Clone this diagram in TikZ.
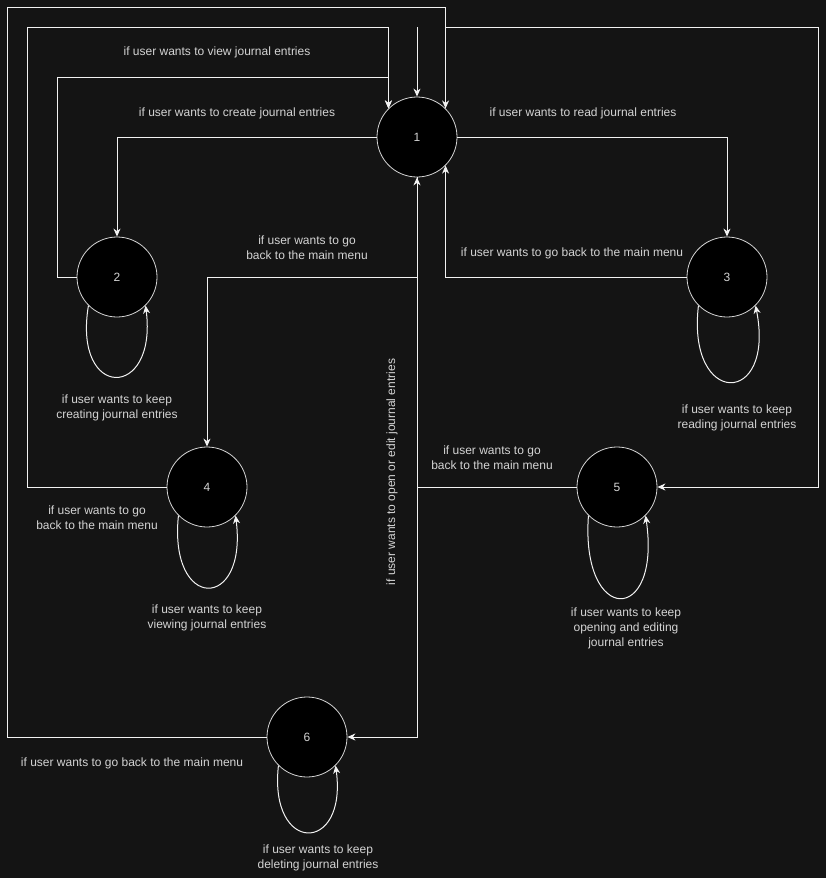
\documentclass[tikz,border=0pt]{standalone}
\usepackage{fontspec}
\setmainfont{Liberation Sans}
\usetikzlibrary{arrows.meta}
\definecolor{bg}{HTML}{141414}
\definecolor{fg}{HTML}{F2F2F2}
\definecolor{txt}{HTML}{D4D4D4}
\begin{document}
\begin{tikzpicture}[x=1pt,y=-1pt,
  state/.style={circle,draw=txt,fill=black,minimum size=80pt,inner sep=0pt,text=txt,font=\fontsize{12}{14}\selectfont,line width=0.8pt},
  edge/.style={draw=fg,line width=1pt,-{Stealth[length=8pt,width=7pt,inset=2.5pt]}},
  lbl/.style={text=txt,font=\fontsize{12}{15}\selectfont,align=center,inner sep=0pt}]
\fill[bg] (0,0) rectangle (826,878);
\useasboundingbox (0,0) rectangle (826,878);
% states
\node[state] (n1) at (417,137) {1};
\node[state] (n2) at (117,277) {2};
\node[state] (n3) at (727,277) {3};
\node[state] (n4) at (207,487) {4};
\node[state] (n5) at (617,487) {5};
\node[state] (n6) at (307,737) {6};
% corner coordinates
\coordinate (s) at (417,27);
\coordinate (c3) at (57,77);
\coordinate (c4) at (27,27);
\coordinate (c5) at (7,7);
\coordinate (c6) at (818,27);
\coordinate (c9) at (207,277);
% connectors
\draw[edge] (s) -- (n1.north);
\draw[edge] (n1.west) -| (n2.north);
\draw[edge] (n1.east) -| (n3.north);
\draw[edge] (n2.west) -| (c3) -| (n1.135);
\draw[edge] (n4.west) -| (c4) -| (n1.135);
\draw[edge] (n6.west) -| (c5) -| (n1.45);
\draw[edge] (n1.45) |- (c6) |- (n5.east);
\draw[edge] (n3.west) -| (n1.-45);
\draw[edge] (n5.west) -| (n1.south);
\draw[edge] (n1.south) |- (c9) -- (n4.north);
\draw[edge] (n1.south) |- (n6.east);
% self loops
\draw[edge] (n2.-135) .. controls +(-16,95) and +(12,95) .. (n2.-45);
\draw[edge] (n3.-135) .. controls +(-12,102) and +(20,102) .. (n3.-45);
\draw[edge] (n4.-135) .. controls +(-10,96) and +(12,96) .. (n4.-45);
\draw[edge] (n5.-135) .. controls +(-8,110) and +(16,110) .. (n5.-45);
\draw[edge] (n6.-135) .. controls +(-10,89) and +(12,89) .. (n6.-45);
% labels
\node[lbl] (l1) at (217,52) {if user wants to view journal entries};
\node[lbl] (l2) at (237,113) {if user wants to create journal entries};
\node[lbl] (l3) at (583,113) {if user wants to read journal entries};
\node[lbl] (l4) at (307,248) {if user wants to go\\back to the main menu};
\node[lbl] (l5) at (572,253) {if user wants to go back to the main menu};
\node[lbl] (l6) at (117,408) {if user wants to keep\\creating journal entries};
\node[lbl] (l7) at (737,418) {if user wants to keep\\reading journal entries};
\node[lbl] (l8) at (492,458) {if user wants to go\\back to the main menu};
\node[lbl] (l9) at (97,518) {if user wants to go\\back to the main menu};
\node[lbl] (l10) at (207,618) {if user wants to keep\\viewing journal entries};
\node[lbl,rotate=90] (l11) at (392,472) {if user wants to open or edit journal entries};
\node[lbl] (l12) at (626,628) {if user wants to keep\\opening and editing\\journal entries};
\node[lbl] (l13) at (132,763) {if user wants to go back to the main menu};
\node[lbl] (l14) at (318,858) {if user wants to keep\\deleting journal entries};
\end{tikzpicture}
\end{document}
